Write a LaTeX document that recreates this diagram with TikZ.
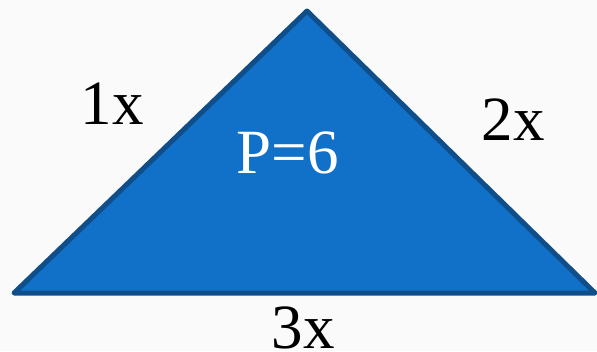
\documentclass[tikz,border=0pt]{standalone}
\usepackage{fontspec}
\setmainfont{Liberation Serif}
\definecolor{trifill}{RGB}{17,112,200}
\definecolor{triedge}{RGB}{16,78,138}
\definecolor{bg}{RGB}{250,250,250}
\begin{document}
\begin{tikzpicture}[x=1pt,y=-1pt,
  lbl/.style={anchor=base,inner sep=0pt,font=\fontsize{63}{63}\selectfont}]
\fill[bg] (0,0) rectangle (597,351);
\useasboundingbox (0,0) rectangle (597,351);
\coordinate (A) at (14,293);
\coordinate (B) at (307,11);
\coordinate (C) at (595,293);
\filldraw[fill=trifill,draw=triedge,line width=5pt,line join=round] (A) -- (B) -- (C) -- cycle;
\node[lbl] (s1) at (112,124) {1x};
\node[lbl] (s2) at (513,140) {2x};
\node[lbl] (s3) at (303,348) {3x};
\node[lbl,text=white] (p) at (288,173) {P=6};
\end{tikzpicture}
\end{document}
